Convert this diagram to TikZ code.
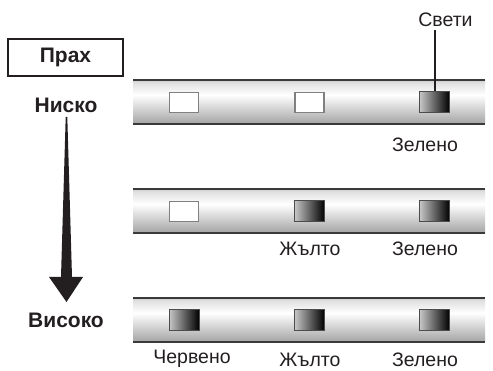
\documentclass[tikz,border=0pt]{standalone}
\usepackage{fontspec}
\setmainfont{Liberation Sans}
\usetikzlibrary{calc}
\definecolor{ink}{HTML}{231F20}
\definecolor{barline}{HTML}{3A3A3A}
\pgfdeclareverticalshading{barshade}{100bp}{color(0bp)=(black!38); color(25bp)=(black!36); color(58bp)=(white); color(72bp)=(black!12); color(75bp)=(black!20); color(100bp)=(black!20)}
\tikzset{
  lbl/.style={text=ink, font=\fontsize{19.5}{21}\selectfont, inner sep=0pt},
  bold/.style={text=ink, font=\fontsize{21}{23}\selectfont\bfseries, inner sep=0pt},
  ledoff/.style={draw=black!50, line width=1.3pt, fill=white, minimum width=29pt, minimum height=20pt, inner sep=0pt},
  ledon/.style={draw=black!70, line width=1pt, left color=black!22, right color=black, minimum width=30pt, minimum height=21pt, inner sep=0pt},
  barbody/.style={shading=barshade},
  barrule/.style={draw=barline, line width=1.8pt},
}
\begin{document}
\begin{tikzpicture}[x=1pt,y=-1pt]
\useasboundingbox (0,0) rectangle (493,371);
% bars
\foreach \yt/\yb in {80/124, 189/233, 298/342}{
  \shade[barbody] (133,\yt) rectangle (485,\yb);
  \draw[barrule] (133,\yt) -- (485,\yt);
  \draw[barrule] (133,\yb) -- (485,\yb);
}
% LEDs
\node[ledoff] (l11) at (184,102.5) {};
\node[ledoff] (l12) at (309.5,102.5) {};
\node[ledon]  (l13) at (434.5,102.5) {};
\node[ledoff] (l21) at (184,211.5) {};
\node[ledon]  (l22) at (309.5,211.5) {};
\node[ledon]  (l23) at (434.5,211.5) {};
\node[ledon]  (l31) at (184,320) {};
\node[ledon]  (l32) at (309.5,320) {};
\node[ledon]  (l33) at (434.5,320) {};
% labels
\node[lbl] (svet) at (445.5,20) {Свети};
\draw[ink, line width=2pt] (l13.north) -- ($(l13.north |- svet.south)+(0,3)$);
\node[lbl] (z1) at (425,144.5) {Зелено};
\node[lbl] (j2) at (310,248.5) {Жълто};
\node[lbl] (z2) at (425,248.5) {Зелено};
\node[lbl] (c3) at (192,359) {Червено};
\node[lbl] (j3) at (310,359.5) {Жълто};
\node[lbl] (z3) at (425,359.5) {Зелено};
% left side
\node[bold, draw=ink, line width=1.8pt, minimum width=115pt, minimum height=37pt] (prah) at (65.5,57.5) {Прах};
\node[bold] (nisko) at (66,105) {Ниско};
\node[bold] (visoko) at (66,320) {Високо};
\coordinate (atop) at (66.5,117);
\coordinate (atip) at (66.5,302);
\fill[ink] ($(atop)+(-0.8,0)$) -- ($(atop)+(0.8,0)$) -- ($(atip)+(5.5,-25)$) -- ($(atip)+(16.5,-25)$) -- (atip) -- ($(atip)+(-17.5,-25)$) -- ($(atip)+(-5.5,-25)$) -- cycle;
\end{tikzpicture}
\end{document}
